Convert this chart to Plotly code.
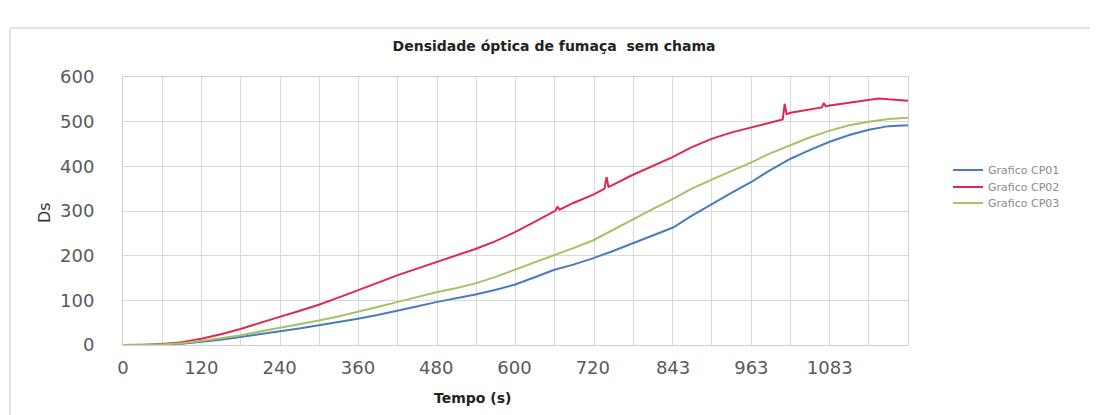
import plotly.graph_objects as go

# ---- data ----
t_common = [0, 30, 60, 90, 120, 150, 180, 210, 240, 270, 300, 330, 360, 390, 420,
            450, 480, 510, 540, 570, 600, 630, 660, 690, 720, 750, 780, 810, 843,
            870, 903, 933, 963, 990, 1023, 1053, 1083, 1113, 1143, 1173, 1203]

cp01 = [0, 0, 1, 3, 7, 12, 18, 24, 30, 37, 44, 51, 59, 67, 76,
        86, 96, 104, 113, 123, 135, 151, 168, 180, 194, 210, 227, 243, 263,
        288, 316, 341, 365, 390, 417, 437, 455, 470, 482, 490, 492]

cp03 = [0, 0, 1, 4, 9, 15, 22, 30, 38, 46, 55, 64, 74, 85, 96,
        107, 118, 127, 138, 152, 168, 185, 201, 217, 234, 257, 281, 303, 327,
        349, 371, 390, 409, 428, 448, 465, 480, 492, 500, 506, 509]

t_cp02 = [0, 30, 60, 90, 120, 150, 180, 210, 240, 270, 300, 330, 360, 390, 420,
          450, 480, 510, 540, 570, 600, 630, 660, 663, 666, 669, 690, 720, 738,
          741, 744, 750, 780, 810, 843, 870, 903, 933, 963, 990, 1011, 1014, 1017,
          1023, 1053, 1071, 1074, 1077, 1083, 1113, 1143, 1158, 1173, 1203]
cp02 = [0, 0, 2, 6, 14, 24, 36, 50, 63, 76, 90, 106, 122, 139, 156,
        171, 186, 200, 215, 232, 252, 275, 299, 301, 310, 303, 318, 336, 350,
        376, 354, 358, 380, 400, 421, 442, 462, 476, 487, 498, 505, 540, 517,
        520, 527, 532, 542, 534, 536, 543, 550, 552, 550, 547]

series_names = ["Grafico CP01", "Grafico CP02", "Grafico CP03"]
x_tick_vals = [0, 120, 240, 360, 480, 600, 720, 843, 963, 1083]
x_tick_text = ["0", "120", "240", "360", "480", "600", "720", "843", "963", "1083"]
y_tick_vals = [0, 100, 200, 300, 400, 500, 600]

title_text = "Densidade óptica de fumaça  sem chama"
x_title = "Tempo (s)"
y_title = "Ds"

# ---- figure ----
fig = go.Figure()
fig.add_trace(go.Scatter(x=t_common, y=cp01, mode="lines", name=series_names[0],
                         line=dict(color="#4a7cbc", width=2), legend="legend"))
fig.add_trace(go.Scatter(x=t_cp02, y=cp02, mode="lines", name=series_names[1],
                         line=dict(color="#e0284f", width=2), legend="legend2"))
fig.add_trace(go.Scatter(x=t_common, y=cp03, mode="lines", name=series_names[2],
                         line=dict(color="#a4c266", width=2), legend="legend3"))

grid = "#d9d9d9"
PL, PT, PB, PW = 123, 77, 345, 785  # plot area in page pixels
PH = PB - PT


def legend_at(row_y):
    return dict(x=(948 - PL) / PW, y=(PB - row_y) / PH, xanchor="left", yanchor="middle",
                font=dict(size=11, color="#8a8a8a"), bgcolor="rgba(0,0,0,0)",
                itemwidth=30)


fig.update_layout(
    width=1098, height=415,
    paper_bgcolor="white", plot_bgcolor="white",
    margin=dict(l=115, r=198, t=69, b=78),
    font=dict(family="DejaVu Sans", color="#555555"),
    title=dict(text=title_text, x=546 / 1098, xref="container", xanchor="center",
               y=1 - 38 / 415, yref="container", yanchor="middle",
               font=dict(size=14, color="#222222", family="DejaVu Sans", weight="bold")),
    showlegend=True,
    legend=legend_at(170),
    legend2=legend_at(187),
    legend3=legend_at(203),
    xaxis=dict(range=[0, 1203], tickmode="array", tickvals=x_tick_vals,
               ticktext=x_tick_text, showgrid=False,
               minor=dict(tickmode="linear", tick0=0, dtick=60.15, showgrid=True,
                          gridcolor=grid, gridwidth=1),
               showline=True, linecolor="#cfcfcf", mirror=True, zeroline=False,
               ticks="", ticklabelstandoff=6,
               tickfont=dict(size=18, color="#5a5a5a")),
    yaxis=dict(range=[0, 600], tickmode="array", tickvals=y_tick_vals,
               showgrid=True, gridcolor=grid, gridwidth=1,
               showline=True, linecolor="#cfcfcf", mirror=True, zeroline=False,
               ticks="", ticklabelstandoff=24,
               tickfont=dict(size=18, color="#5a5a5a")),
    annotations=[
        dict(text=x_title, xref="paper", yref="paper",
             x=(472 - PL) / PW, y=-(398 - PB) / PH, xanchor="center", yanchor="middle",
             showarrow=False, font=dict(size=14, color="#222222", weight="bold")),
        dict(text=y_title, xref="paper", yref="paper",
             x=-(PL - 44) / PW, y=(PB - 213) / PH, xanchor="center", yanchor="middle",
             textangle=-90, showarrow=False, font=dict(size=16, color="#333333")),
    ],
    shapes=[
        dict(type="rect", xref="paper", yref="paper",
             x0=-(PL - 10) / PW, x1=(1097 - PL) / PW,
             y0=-(418 - PB) / PH, y1=(PB - 28) / PH,
             line=dict(color="#c8c8c8", width=1), fillcolor="rgba(0,0,0,0)", layer="below"),
    ],
)

fig.write_html("out.html")
